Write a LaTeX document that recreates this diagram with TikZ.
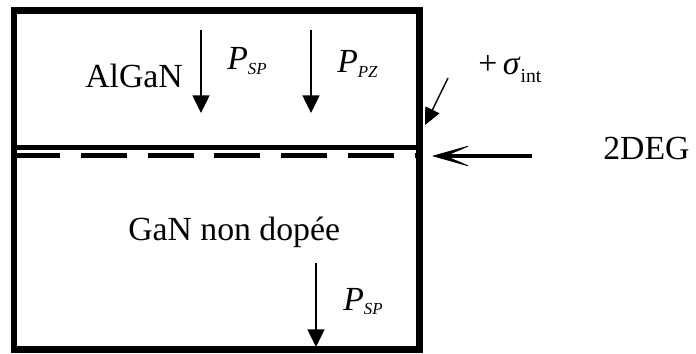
\documentclass[tikz,border=0pt]{standalone}
\usepackage{fontspec}
\setmainfont{Liberation Serif}
\usetikzlibrary{arrows.meta,positioning}
\newcommand{\polsub}[1]{\raisebox{-3pt}{\fontsize{12}{14}\selectfont\textit{#1}}}

\begin{document}
\begin{tikzpicture}[
  x=0.025cm, y=-0.025cm,
  layer/.style={line width=4.3pt},
  iface/.style={line width=3.5pt},
  gas/.style={line width=3.9pt, dash pattern=on 1.15cm off 0.5175cm},
  lab/.style={font=\fontsize{24}{28}\selectfont, inner sep=0pt, anchor=base west},
  pol/.style={-{Triangle[length=12.5pt,width=12pt]}, line width=1.1pt},
  charge/.style={-{Triangle[length=12pt,width=11pt]}, line width=1pt},
  gasarrow/.style={-{Stealth[length=30pt,width=17pt,inset=20pt,line width=0.6pt]}, line width=2.5pt}
]
\useasboundingbox (0,0) rectangle (696,354);

% heterostructure
\coordinate (nw) at (14.3,10.5);
\coordinate (se) at (419.5,349.5);
\draw[layer] (nw) rectangle (se);
\coordinate (ifl) at (14.3,147.5);
\coordinate (ifr) at (419.5,147.5);
\draw[iface] (ifl) -- (ifr);
\coordinate (gasl) at (14.3,155.5);
\coordinate (gasr) at (419.5,155.5);
\draw[gas] (gasl) -- (gasr);

% labels
\node[lab] (algan) at (85,88) {AlGaN};
\node[lab] (psptop) at (227,70) {\textit{P}\polsub{SP}};
\node[lab] (ppz) at (337,73) {\textit{P}\polsub{PZ}};
\node[lab] (sigma) at (478,75) {+\,\textit{σ}\raisebox{-5.5pt}{\fontsize{14}{16}\selectfont int}};
\node[lab] (deg) at (603,160) {2DEG};
\node[lab] (gan) at (128,240) {GaN non dopée};
\node[lab] (pspbot) at (343,310) {\textit{P}\polsub{SP}};

% polarisation arrows
\coordinate (sptop) at (201,30);
\coordinate (sptip) at (201,113);
\draw[pol] (sptop) -- (sptip);
\coordinate (pztop) at (311,30);
\coordinate (pztip) at (311,113);
\draw[pol] (pztop) -- (pztip);
\coordinate (botop) at (316,263);
\coordinate (botip) at (316,347);
\draw[pol] (botop) -- (botip);

% interface charge and electron gas
\coordinate (sgtail) at (448,78);
\coordinate (sgtip) at (425,125);
\draw[charge] (sgtail) -- (sgtip);
\coordinate (degtail) at (532,156);
\coordinate (degtip) at (432,156);
\draw[gasarrow] (degtail) -- (degtip);
\end{tikzpicture}
\end{document}
